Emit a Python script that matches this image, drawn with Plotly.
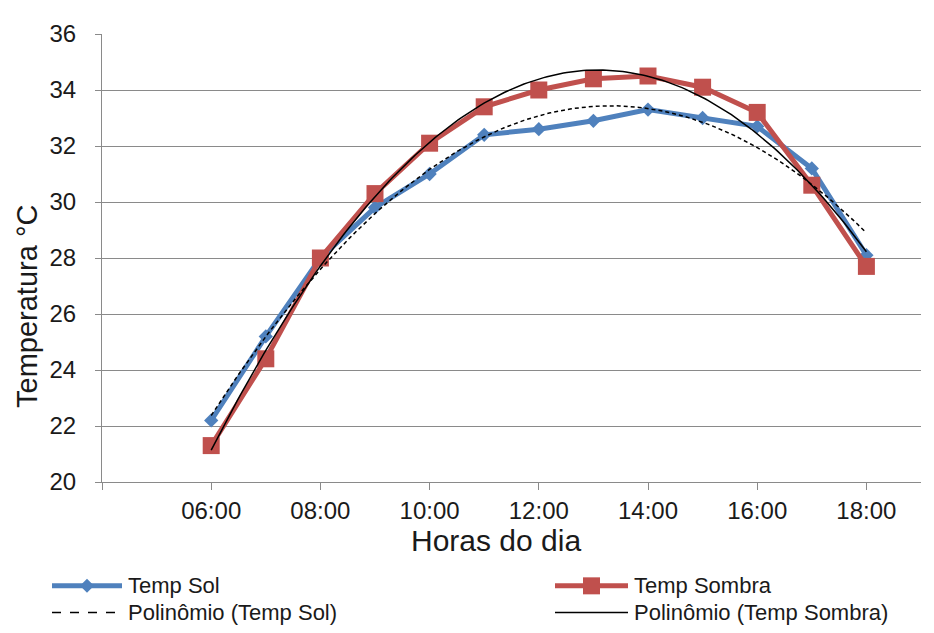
import numpy as np
import plotly.graph_objects as go

# ---- data ----
hours = ["06:00", "07:00", "08:00", "09:00", "10:00", "11:00", "12:00",
         "13:00", "14:00", "15:00", "16:00", "17:00", "18:00"]
temp_sol = [22.2, 25.2, 28.0, 29.8, 31.0, 32.4, 32.6, 32.9, 33.3, 33.0, 32.7, 31.2, 28.1]
temp_sombra = [21.3, 24.4, 28.0, 30.3, 32.1, 33.4, 34.0, 34.4, 34.5, 34.1, 33.2, 30.6, 27.7]
tick_labels = ["", "06:00", "08:00", "10:00", "12:00", "14:00", "16:00", "18:00"]
tick_hours = [4, 6, 8, 10, 12, 14, 16, 18]
y_ticks = [20, 22, 24, 26, 28, 30, 32, 34, 36]

series_names = ["Temp Sol", "Temp Sombra", "Polinômio (Temp Sol)", "Polinômio (Temp Sombra)"]

x = np.array([int(h[:2]) + int(h[3:]) / 60 for h in hours])

# polynomial (order 2) trendlines, as computed by the spreadsheet
xs = np.linspace(x.min(), x.max(), 200)
fit_sol = np.polyval(np.polyfit(x, temp_sol, 2), xs)
fit_sombra = np.polyval(np.polyfit(x, temp_sombra, 2), xs)

BLUE = "#4F81BD"
RED = "#C0504D"
FONT = "Liberation Sans, Arial, sans-serif"
TXT = "#1a1a1a"
GRID = "#8a8a8a"

fig = go.Figure()
fig.add_trace(go.Scatter(x=x, y=temp_sol, mode="lines+markers", name=series_names[0],
                         line=dict(color=BLUE, width=5),
                         marker=dict(symbol="diamond", size=11, color=BLUE)))
fig.add_trace(go.Scatter(x=x, y=temp_sombra, mode="lines+markers", name=series_names[1],
                         line=dict(color=RED, width=5),
                         marker=dict(symbol="square", size=17, color=RED)))
fig.add_trace(go.Scatter(x=xs, y=fit_sol, mode="lines", name=series_names[2],
                         line=dict(color="black", width=1.5, dash="4px,3px")))
fig.add_trace(go.Scatter(x=xs, y=fit_sombra, mode="lines", name=series_names[3],
                         line=dict(color="black", width=1.5)))

# ---- geometry helpers (window pixel -> paper); page body has an 8px margin ----
OFF = 8
WIN_W, WIN_H = 934, 633
W, H = WIN_W - OFF, WIN_H - OFF
PL, PR, PT, PB = 102, 921, 29, 482          # plot area in window pixels
L, R, T, B = PL - OFF, WIN_W - PR, PT - OFF, WIN_H - PB
PW, PH = PR - PL, PB - PT


def px(xp):
    return (xp - PL) / PW


def py(yp):
    return (PB - yp) / PH


annotations = [
    dict(text="Horas do dia", x=px(496), y=py(541), xref="paper", yref="paper",
         showarrow=False, font=dict(family=FONT, size=30, color=TXT),
         xanchor="center", yanchor="middle"),
    dict(text="Temperatura °C", x=px(27), y=py(305), xref="paper", yref="paper",
         showarrow=False, textangle=-90, font=dict(family=FONT, size=29, color=TXT),
         xanchor="center", yanchor="middle"),
]

# ---- custom legend (two columns) ----
shapes = []
leg_rows = [587, 614]
leg_cols = [(52, 122, 126), (555, 628, 632)]
entries = [
    (0, 0, series_names[0], dict(color=BLUE, width=5), "diamond", BLUE),
    (1, 0, series_names[1], dict(color=RED, width=5), "square", RED),
    (0, 1, series_names[2], dict(color="black", width=1.5, dash="dash"), None, None),
    (1, 1, series_names[3], dict(color="black", width=1.5), None, None),
]
for col, row, name, line, sym, mcol in entries:
    x0, x1, tx = leg_cols[col]
    yy = leg_rows[row]
    shapes.append(dict(type="line", xref="paper", yref="paper",
                       x0=px(x0), x1=px(x1), y0=py(yy), y1=py(yy), line=line))
    xm = (x0 + x1) / 2
    if sym == "diamond":
        shapes.append(dict(type="path", xref="paper", yref="paper",
                           xsizemode="pixel", ysizemode="pixel",
                           xanchor=px(xm), yanchor=py(yy),
                           path="M 0,-7 L 7,0 L 0,7 L -7,0 Z",
                           fillcolor=mcol, line=dict(width=0)))
    elif sym == "square":
        shapes.append(dict(type="path", xref="paper", yref="paper",
                           xsizemode="pixel", ysizemode="pixel",
                           xanchor=px(xm), yanchor=py(yy),
                           path="M -8.5,-8.5 L 8.5,-8.5 L 8.5,8.5 L -8.5,8.5 Z",
                           fillcolor=mcol, line=dict(width=0)))
    annotations.append(dict(text=name, x=px(tx), y=py(yy), xref="paper", yref="paper",
                            showarrow=False, xanchor="left", yanchor="middle",
                            font=dict(family=FONT, size=22, color=TXT)))

fig.update_layout(
    width=W, height=H,
    margin=dict(l=L, r=R, t=T, b=B, pad=0),
    paper_bgcolor="white", plot_bgcolor="white",
    showlegend=False,
    font=dict(family=FONT, size=24, color=TXT),
    annotations=annotations,
    shapes=shapes,
)
fig.update_xaxes(range=[4, 19], tickvals=tick_hours, ticktext=tick_labels,
                 showgrid=False, zeroline=False,
                 showline=True, linecolor=GRID, linewidth=1,
                 ticks="outside", ticklen=7, tickcolor=GRID,
                 tickfont=dict(family=FONT, size=24, color=TXT),
                 ticklabelstandoff=0)
fig.update_yaxes(range=[20, 36], tickvals=y_ticks,
                 showgrid=True, gridcolor=GRID, gridwidth=1, zeroline=False,
                 showline=True, linecolor=GRID, linewidth=1,
                 ticks="outside", ticklen=6, tickcolor=GRID,
                 tickfont=dict(family=FONT, size=24, color=TXT),
                 ticklabelstandoff=14)

fig.write_html("out.html")
